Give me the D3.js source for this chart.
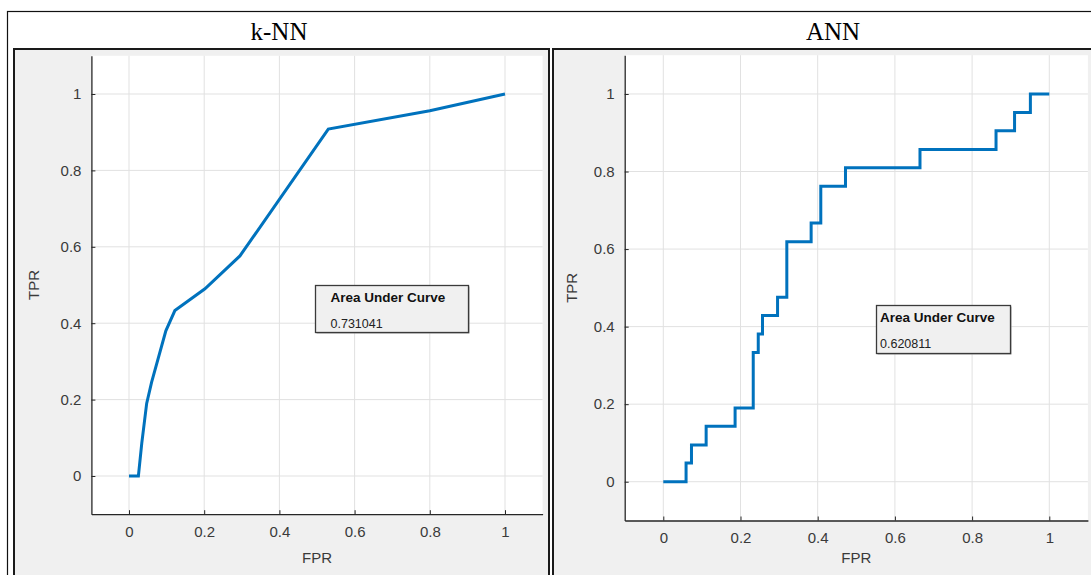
<!DOCTYPE html>
<html>
<head>
<meta charset="utf-8">
<script src="https://cdn.jsdelivr.net/npm/d3@7"></script>
<style>
    html, body { margin: 0; padding: 0; background: #fff; }
    svg { display: block; }
    .tick text { font-family: Arial, "Liberation Sans", sans-serif; }
</style>
</head>
<body>
<div id="chart"></div>
<script>
// ROC curves
const knnFpr = [0, 0.025, 0.034, 0.047, 0.06, 0.098, 0.122, 0.202, 0.295, 0.53, 0.8, 1];
const knnTpr = [0, 0, 0.086, 0.19, 0.245, 0.38, 0.433, 0.49, 0.576, 0.908, 0.956, 1];

const annFpr = [0, 0.059, 0.073, 0.111, 0.186, 0.233, 0.246, 0.257, 0.296, 0.32, 0.383, 0.408, 0.472, 0.665, 0.862, 0.91, 0.951, 1];
const annTpr = [0, 0.048, 0.095, 0.143, 0.19, 0.333, 0.381, 0.429, 0.476, 0.619, 0.667, 0.762, 0.81, 0.857, 0.905, 0.952, 1, 1];

const panelTitles = ["k-NN", "ANN"];
const aucValues = ["0.731041", "0.620811"];
const tickValues = [0, 0.2, 0.4, 0.6, 0.8, 1];
const axisDomain = [-0.1, 1.1];

const W = 1091, H = 575;
const svg = d3.select("#chart").append("svg")
    .attr("width", W)
    .attr("height", H);

svg.append("rect").attr("width", W).attr("height", H).attr("fill", "#fff");

// outer table frame
svg.append("rect")
    .attr("x", 7.5).attr("y", 11.5)
    .attr("width", W + 20).attr("height", H)
    .attr("fill", "none").attr("stroke", "#111").attr("stroke-width", 1.2);

const panels = [
    {
        title: panelTitles[0], auc: aucValues[0], fpr: knnFpr, tpr: knnTpr, step: false,
        box: [14, 549], titleX: 279, ylabX: 34,
        xr: [91.4, 542.6], yr: [514.2, 55.8],
        note: { x: 315.5, y: 285.5, w: 153, h: 47 }
    },
    {
        title: panelTitles[1], auc: aucValues[1], fpr: annFpr, tpr: annTpr, step: true,
        box: [553, W + 20], titleX: 833, ylabX: 572,
        xr: [624.7, 1087.9], yr: [520.5, 55.2],
        note: { x: 876.5, y: 305.5, w: 134, h: 48 }
    }
];

panels.forEach(drawPanel);

function drawPanel(p) {
    const g = svg.append("g");

    g.append("text")
        .attr("x", p.titleX).attr("y", 40)
        .attr("text-anchor", "middle")
        .attr("font-family", "'Liberation Serif', 'Times New Roman', serif")
        .attr("font-size", 25)
        .attr("fill", "#000")
        .text(p.title);

    // grey figure background with dark border
    g.append("rect")
        .attr("x", p.box[0]).attr("y", 49)
        .attr("width", p.box[1] - p.box[0]).attr("height", H)
        .attr("fill", "#f0f0f0")
        .attr("stroke", "#1a1a1a").attr("stroke-width", 2);

    const x = d3.scaleLinear().domain(axisDomain).range(p.xr);
    const y = d3.scaleLinear().domain(axisDomain).range(p.yr);

    // white axes area
    g.append("rect")
        .attr("x", p.xr[0]).attr("y", p.yr[1])
        .attr("width", p.xr[1] - p.xr[0]).attr("height", p.yr[0] - p.yr[1])
        .attr("fill", "#fff");

    // grid
    g.append("g").selectAll("line.vg").data(tickValues).join("line")
        .attr("x1", d => x(d)).attr("x2", d => x(d))
        .attr("y1", p.yr[0]).attr("y2", p.yr[1])
        .attr("stroke", "#e1e1e1").attr("stroke-width", 1);
    g.append("g").selectAll("line.hg").data(tickValues).join("line")
        .attr("y1", d => y(d)).attr("y2", d => y(d))
        .attr("x1", p.xr[0]).attr("x2", p.xr[1])
        .attr("stroke", "#e1e1e1").attr("stroke-width", 1);

    // axes with inward ticks
    const xAxis = d3.axisBottom(x).tickValues(tickValues).tickSize(-4).tickPadding(12)
        .tickFormat(d3.format("~g")).tickSizeOuter(0);
    const yAxis = d3.axisLeft(y).tickValues(tickValues).tickSize(-4).tickPadding(10)
        .tickFormat(d3.format("~g")).tickSizeOuter(0);

    const gx = g.append("g").attr("transform", `translate(0,${p.yr[0]})`).call(xAxis);
    const gy = g.append("g").attr("transform", `translate(${p.xr[0]},0)`).call(yAxis);
    [gx, gy].forEach(a => {
        a.select(".domain").attr("stroke", "#262626").attr("stroke-width", 1.3);
        a.selectAll(".tick line").attr("stroke", "#262626");
        a.selectAll(".tick text").attr("fill", "#3a3a3a").attr("font-size", 15);
    });

    g.append("text")
        .attr("x", (p.xr[0] + p.xr[1]) / 2).attr("y", 563)
        .attr("text-anchor", "middle")
        .attr("font-family", "Arial, 'Liberation Sans', sans-serif")
        .attr("font-size", 15).attr("fill", "#3a3a3a")
        .text("FPR");

    g.append("text")
        .attr("transform", `translate(${p.ylabX + 5},${(p.yr[0] + p.yr[1]) / 2}) rotate(-90)`)
        .attr("text-anchor", "middle")
        .attr("font-family", "Arial, 'Liberation Sans', sans-serif")
        .attr("font-size", 15).attr("fill", "#3a3a3a")
        .text("TPR");

    const pts = p.fpr.map((f, i) => [f, p.tpr[i]]);
    const line = d3.line()
        .x(d => x(d[0])).y(d => y(d[1]))
        .curve(p.step ? d3.curveStepAfter : d3.curveLinear);

    g.append("path")
        .datum(pts)
        .attr("d", line)
        .attr("fill", "none")
        .attr("stroke", "#0072bd")
        .attr("stroke-width", 3)
        .attr("stroke-linejoin", "miter");

    // AUC annotation
    const n = p.note;
    g.append("rect")
        .attr("x", n.x + 1).attr("y", n.y + 1)
        .attr("width", n.w).attr("height", n.h)
        .attr("fill", "#9a9a9a");
    g.append("rect")
        .attr("x", n.x).attr("y", n.y)
        .attr("width", n.w).attr("height", n.h)
        .attr("fill", "#f0f0f0")
        .attr("stroke", "#3a3a3a").attr("stroke-width", 1.3);
    g.append("text")
        .attr("x", n.x + (p.step ? 3.5 : 15)).attr("y", n.y + 16)
        .attr("font-family", "Arial, 'Liberation Sans', sans-serif")
        .attr("font-size", 13.5).attr("font-weight", "bold").attr("fill", "#111")
        .text("Area Under Curve");
    g.append("text")
        .attr("x", n.x + (p.step ? 3.5 : 15)).attr("y", n.y + 42)
        .attr("font-family", "Arial, 'Liberation Sans', sans-serif")
        .attr("font-size", 12.5).attr("fill", "#222")
        .text(p.auc);
}
</script>
</body>
</html>
